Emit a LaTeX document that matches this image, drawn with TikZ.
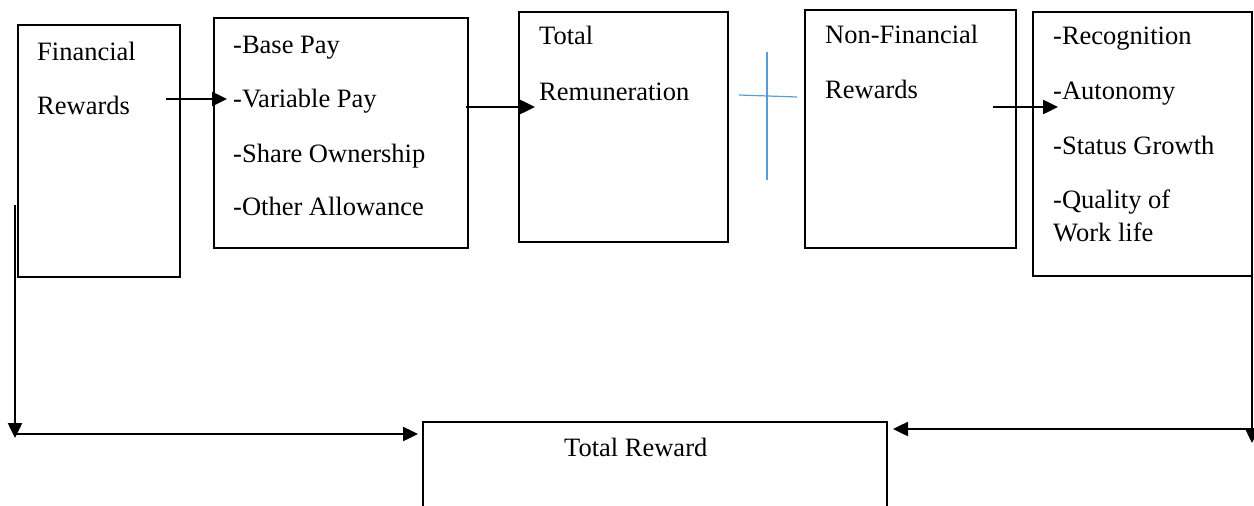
\documentclass[tikz,border=0pt]{standalone}
\usepackage{fontspec}
\setmainfont{Liberation Serif}
\usetikzlibrary{arrows.meta}
\begin{document}
\begin{tikzpicture}[x=1pt,y=-1pt,
  box/.style={draw=black,line width=2pt,anchor=north west,inner sep=0pt},
  txt/.style={anchor=base west,inner sep=0pt,font=\fontsize{26.5}{30}\selectfont},
  conn/.style={line width=2.5pt,-{Triangle[length=15pt,width=14pt]}},
  cross/.style={draw={rgb,255:red,91;green,155;blue,213},line width=1.2pt}]
\clip (0,0) rectangle (1254,506);
\fill[white] (0,0) rectangle (1254,506);
% boxes
\node[box,minimum width=162pt,minimum height=252pt] (fin) at (17,24) {};
\node[box,minimum width=254pt,minimum height=230pt] (pay) at (213,17) {};
\node[box,minimum width=209pt,minimum height=230pt] (tot) at (518,11) {};
\node[box,minimum width=211pt,minimum height=238pt] (nfin) at (804,9) {};
\node[box,minimum width=219pt,minimum height=264pt] (nlist) at (1032,11) {};
\node[box,minimum width=464pt,minimum height=120pt] (reward) at (422,421) {};
% texts
\node[txt] (t1) at (37,60) {Financial};
\node[txt] (t2) at (37,114) {Rewards};
\node[txt] (p1) at (233,53) {-Base Pay};
\node[txt] (p2) at (233,107) {-Variable Pay};
\node[txt] (p3) at (233,162) {-Share Ownership};
\node[txt] (p4) at (233,215) {-Other Allowance};
\node[txt] (r1) at (539,45) {Total};
\node[txt] (r2) at (539,100) {Remuneration};
\node[txt] (n1) at (825,43) {Non-Financial};
\node[txt] (n2) at (825,98) {Rewards};
\node[txt] (q1) at (1053,45) {-Recognition};
\node[txt] (q2) at (1053,99) {-Autonomy};
\node[txt] (q3) at (1053,154) {-Status Growth};
\node[txt] (q4) at (1053,208) {-Quality of};
\node[txt] (q5) at (1053,241) {Work life};
\node[txt] (tr) at (564,456) {Total Reward};
% connector end points
\coordinate (a1s) at (166,99);
\coordinate (a1e) at (227,99);
\coordinate (a2s) at (466,107);
\coordinate (a2e) at (535,107);
\coordinate (a3s) at (993,107);
\coordinate (a3e) at (1058,107);
\coordinate (ls) at (15,205);
\coordinate (le) at (15,438);
\coordinate (lh) at (15,434);
\coordinate (lt) at (418,434);
\coordinate (rs) at (1252,218);
\coordinate (re) at (1252,443);
\coordinate (rh) at (1252,429);
\coordinate (rt) at (893,429);
\coordinate (cv1) at (767,52);
\coordinate (cv2) at (767,180);
\coordinate (ch1) at (739,95);
\coordinate (ch2) at (797,97);
% connectors
\draw[conn] (a1s) -- (a1e);
\draw[conn] (a2s) -- (a2e);
\draw[conn] (a3s) -- (a3e);
\draw[conn] (ls) -- (le);
\draw[conn] (lh) -- (lt);
\draw[conn] (rs) -- (re);
\draw[conn] (rh) -- (rt);
\draw[cross] (cv1) -- (cv2);
\draw[cross] (ch1) -- (ch2);
\end{tikzpicture}
\end{document}
